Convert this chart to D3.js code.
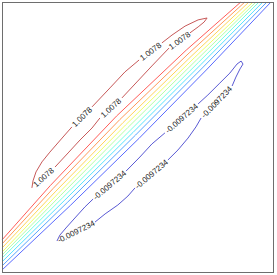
<!DOCTYPE html>
<html>
<head>
<meta charset="utf-8">
<script src="https://cdn.jsdelivr.net/npm/d3@7"></script>
<style>
  body { margin: 0; background: #fff; }
</style>
</head>
<body>
<div id="chart"></div>
<script>
// contour levels, low to high (only the outer two get labels)
var levels = [-0.0097234, 0.092, 0.1937, 0.2955, 0.3972, 0.499, 0.6008, 0.7025, 0.8043, 0.906, 1.0078];
var labelTexts = ["-0.0097234", "1.0078"];

// the steep band: one polyline per inner level (levels[1] .. levels[9])
var bandLines = [
    [[0,1.1],[25.1,24.9],[50.35,49.65],[75.1,74.9],[98.9,100]],
    [[0,2.6],[24,26],[49.1,50.9],[74,76],[97.4,100]],
    [[0,4.1],[23.1,26.9],[48.15,51.85],[73.1,76.9],[95.9,100]],
    [[0,5.5],[22.25,27.75],[47.25,52.75],[72.25,77.75],[94.5,100]],
    [[0,6.6],[21.45,28.55],[46.3,53.7],[71.45,78.55],[93.4,100]],
    [[0,7.7],[20.65,29.35],[45.4,54.6],[70.65,79.35],[92.3,100]],
    [[0,9.2],[19.8,30.2],[44.5,55.5],[69.8,80.2],[90.8,100]],
    [[0,10.7],[18.8,31.2],[43.35,56.65],[68.8,81.2],[89.3,100]],
    [[0,12.2],[17.75,32.25],[42.1,57.9],[67.75,82.25],[87.8,100]]
];

// closed loop at the top level, broken where labels sit
var hiLoop = [
    [[19.5,39.1],[24.3,44.3],[28.7,49.1],[33.1,53.5],[36.0,57.2]],
    [[44.1,64.6],[49.6,70.5],[55.1,76.4],[61.4,83.0]],
    [[69.1,88.6],[72.1,90.8],[74.3,92.6],[75.4,94.1],[72.1,93.4],[67.3,91.1],[62.5,87.8],[58.8,84.9]],
    [[50.4,78.6],[45.2,74.2],[39.7,68.3],[33.1,61.3]],
    [[25.7,53.9],[22.1,49.8],[17.6,44.6],[14.7,41.0],[12.5,37.3],[11.4,34.0],[11.0,31.4]]
];

// closed loop at the bottom level
var loLoop = [
    [[34.2,18.8],[37.9,21.8],[42.6,25.1],[46.3,28.4],[48.9,31.4]],
    [[61.0,41.7],[64.7,45.4],[68.4,49.8],[71.3,53.9],[73.2,57.2]],
    [[84.6,69.0],[86.0,72.3],[87.5,75.3],[88.6,77.1],[87.9,78.2],[86.4,77.1],[83.8,73.8],[80.1,70.1],[75.7,65.7],[72.1,62.4]],
    [[59.9,51.7],[55.1,47.6],[50.7,42.8],[45.6,37.6]],
    [[33.5,27.3],[30.5,24.4],[26.8,20.3],[23.5,16.6],[21.3,14.0],[20.2,11.8]]
];

var width = 277, height = 275;

var x = d3.scaleLinear().domain([0, 100]).range([2, 274]);
var y = d3.scaleLinear().domain([0, 100]).range([273, 2]);

// jet colormap, washed a little toward white like the thin lines in the picture
function jet(t){
    var c = function(v){ return Math.max(0, Math.min(1, v)); };
    return d3.rgb(255*c(1.5-Math.abs(4*t-3)), 255*c(1.5-Math.abs(4*t-2)), 255*c(1.5-Math.abs(4*t-1)));
}
var color = d3.scaleLinear().domain([levels[0], levels[levels.length-1]]).range([0.06, 0.96]);
function lineColor(level){
    return d3.interpolateRgb(jet(color(level)), "#fff")(0.35);
}

var svg = d3.select("#chart")
        .append("svg")
        .attr("width", width)
        .attr("height", height);

var line = d3.line()
        .x(function(d){ return x(d[0]); })
        .y(function(d){ return y(d[1]); });

// band lines
svg.selectAll(".band")
    .data(bandLines)
    .enter()
    .append("path")
    .attr("class", "band")
    .attr("d", line)
    .attr("fill", "none")
    .attr("stroke", function(d, i){ return lineColor(levels[i+1]); })
    .attr("stroke-width", 1);

// a loop plus its inline labels in the gaps between pieces
function drawLoop(pieces, level, text){
    svg.append("g").selectAll("path")
        .data(pieces)
        .enter()
        .append("path")
        .attr("d", line)
        .attr("fill", "none")
        .attr("stroke", lineColor(level))
        .attr("stroke-width", 1);

    pieces.forEach(function(p, i){
        var a = p[p.length-1];
        var b = pieces[(i+1) % pieces.length][0];
        var ax = x(a[0]), ay = y(a[1]), bx = x(b[0]), by = y(b[1]);
        if (bx < ax) { var t = ax; ax = bx; bx = t; t = ay; ay = by; by = t; }
        var ang = Math.atan2(by - ay, bx - ax) * 180 / Math.PI;
        svg.append("text")
            .attr("transform", "translate(" + ((ax+bx)/2) + "," + ((ay+by)/2) + ") rotate(" + ang + ")")
            .attr("text-anchor", "middle")
            .attr("dy", "0.35em")
            .style("font-family", "'Liberation Sans', Arial, sans-serif")
            .style("font-size", "8px")
            .style("fill", "#222")
            .text(text);
    });
}

drawLoop(hiLoop, levels[levels.length-1], labelTexts[1]);
drawLoop(loLoop, levels[0], labelTexts[0]);

// box
svg.append("rect")
    .attr("x", x(0) + 0.5)
    .attr("y", y(100) + 0.5)
    .attr("width", x(100) - x(0) - 1)
    .attr("height", y(0) - y(100) - 1)
    .attr("fill", "none")
    .attr("stroke", "#6e6e6e")
    .attr("stroke-width", 1);
</script>
</body>
</html>
